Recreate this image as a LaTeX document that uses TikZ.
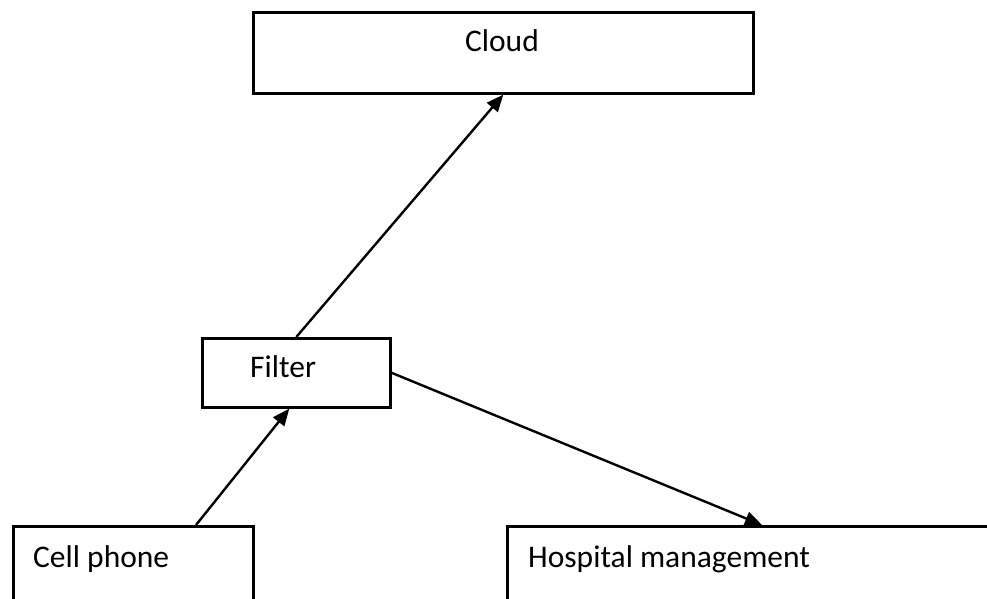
\documentclass[tikz,border=0pt]{standalone}
\usepackage{fontspec}
\setmainfont{Carlito}
\usetikzlibrary{arrows.meta,calc}
\tikzset{
  box/.style={draw=black, line width=2.6pt, inner sep=0pt, anchor=north west, fill=white},
  lbl/.style={inner sep=0pt, font=\fontsize{31.5}{36}\selectfont},
  conn/.style={draw=black, line width=2.4pt, -{Triangle[length=17pt,width=14pt]}}
}
\begin{document}
\begin{tikzpicture}[x=1pt,y=-1pt]
  \useasboundingbox (0,0) rectangle (987,599);
  \clip (0,0) rectangle (987,599);
  % boxes
  \node[box, minimum width=500pt, minimum height=81pt] (cloud) at (252,11) {};
  \node[box, minimum width=188pt, minimum height=69pt] (filter) at (201,337) {};
  \node[box, minimum width=240pt, minimum height=100pt] (phone) at (12,525) {};
  \node[box, minimum width=520pt, minimum height=100pt] (hosp) at (506,525) {};
  % labels
  \node[lbl, anchor=base] (cloudtext) at (502,52) {Cloud};
  \node[lbl, anchor=base west] (filtertext) at (250,377) {Filter};
  \node[lbl, anchor=base west] (phonetext) at (33,567) {Cell phone};
  \node[lbl, anchor=base west] (hosptext) at (528,567) {Hospital management};
  % connectors
  \coordinate (phoneout) at ($(phone.north west)+(184,0)$);
  \coordinate (filterin) at ($(filter.south)+(-7,0)$);
  \coordinate (hospin) at ($(hosp.north west)+(256,0)$);
  \draw[conn] (filter.north) -- (cloud.south);
  \draw[conn] (phoneout) -- (filterin);
  \draw[conn] (filter.east) -- (hospin);
\end{tikzpicture}
\end{document}
